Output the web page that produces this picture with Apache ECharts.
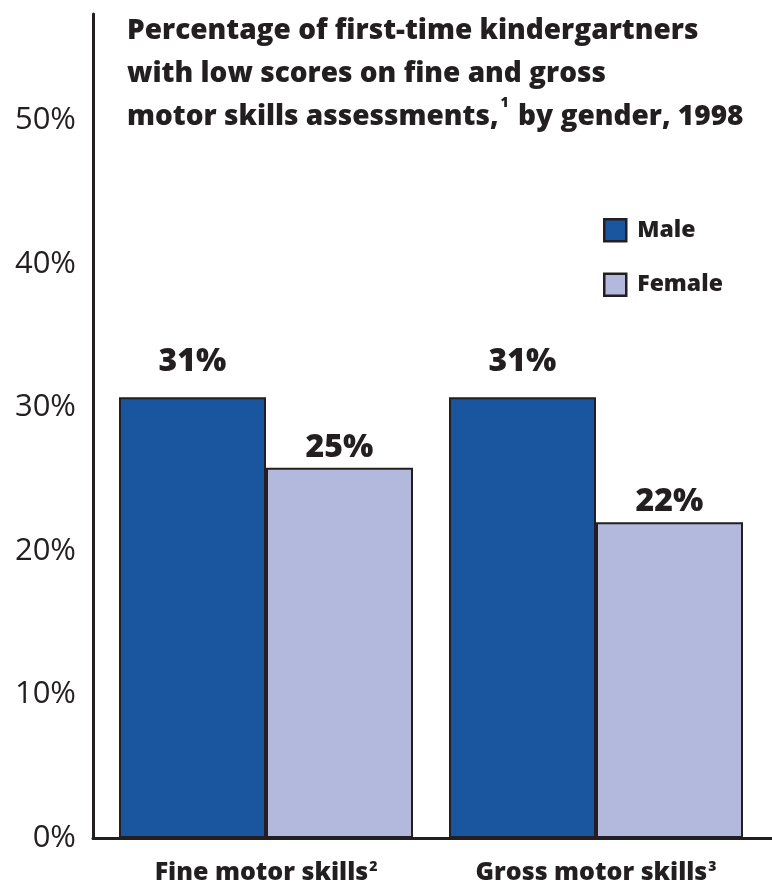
<!DOCTYPE html>
<html><head><meta charset="utf-8">
<script src="https://cdn.jsdelivr.net/npm/echarts@6/dist/echarts.min.js"></script>
<style>html,body{margin:0;padding:0;background:#fff}#c{width:772px;height:888px}</style>
</head><body><div id="c"></div>
<script>
const categories = ['Fine motor skills', 'Gross motor skills'];
const categorySup = ['2', '3'];
const maleValues = [30.7, 30.7];
const femaleValues = [25.8, 22.0];
const maleLabels = ['31%', '31%'];
const femaleLabels = ['25%', '22%'];
const yTicks = [0, 10, 20, 30, 40, 50];
const seriesNames = ['Male', 'Female'];

const ink = '#231f20';
const font = 'Open Sans';
const bw = 800;
const chart = echarts.init(document.getElementById('c'));
const yMax = 57.4;
chart.setOption({
  animation: false,
  title: {
    left: 122, top: 5,
    text: '{b|Percentage of first-time kindergartners}\n{b|with low scores on fine and gross}\n{b|motor skills assessments,}{s|1}{b| by gender, 1998}',
    textStyle: {
      rich: {
        b: {fontFamily: font, fontWeight: bw, fontSize: 28, color: ink, lineHeight: 43},
        s: {fontFamily: font, fontWeight: bw, fontSize: 14, color: ink, lineHeight: 43, verticalAlign: 'top', padding: [0, 2, 6, 2]}
      }
    }
  },
  legend: {
    orient: 'vertical', left: 598, top: 213, icon: 'rect',
    itemWidth: 22, itemHeight: 22, itemGap: 30,
    data: seriesNames,
    itemStyle: {borderColor: ink, borderWidth: 2.5},
    textStyle: {fontFamily: font, fontWeight: bw, fontSize: 23, color: ink, lineHeight: 22, padding: [0, 0, 0, 6]}
  },
  grid: [
    {left: 93, right: 0, top: 14, bottom: 50},
    {left: 101, right: 11, top: 14, bottom: 50}
  ],
  xAxis: [
    {gridIndex: 0, type: 'value', min: 0, max: 1, axisLine: {show: true, lineStyle: {color: ink, width: 3}},
     axisTick: {show: false}, axisLabel: {show: false}, splitLine: {show: false}},
    {gridIndex: 1, type: 'category', data: categories, axisLine: {show: false}, axisTick: {show: false},
     axisLabel: {margin: 22, formatter: (v, i) => '{b|' + v + '}{s|' + categorySup[i] + '}',
       rich: {
         b: {fontFamily: font, fontWeight: bw, fontSize: 25, color: ink},
         s: {fontFamily: font, fontWeight: bw, fontSize: 14, color: ink, verticalAlign: 'top', padding: [0, 0, 8, 1]}
       }}}
  ],
  yAxis: [
    {gridIndex: 0, type: 'value', min: 0, max: yMax, interval: 10,
     axisLine: {show: true, lineStyle: {color: ink, width: 3}}, axisTick: {show: false}, splitLine: {show: false},
     axisLabel: {margin: 17, fontFamily: font, fontSize: 31, color: ink,
       formatter: v => yTicks.indexOf(Math.round(v * 10) / 10) >= 0 ? v + '%' : ''}},
    {gridIndex: 1, type: 'value', min: 0, max: yMax, show: false}
  ],
  series: [
    {name: seriesNames[0], type: 'bar', xAxisIndex: 1, yAxisIndex: 1, data: maleValues,
     barWidth: 147, barGap: '0%',
     itemStyle: {color: '#1a56a0', borderColor: ink, borderWidth: 2},
     label: {show: true, position: 'top', distance: 19, formatter: p => maleLabels[p.dataIndex],
       fontFamily: font, fontWeight: bw, fontSize: 32, color: ink}},
    {name: seriesNames[1], type: 'bar', xAxisIndex: 1, yAxisIndex: 1, data: femaleValues,
     barWidth: 147, barGap: '0%',
     itemStyle: {color: '#b3b9dc', borderColor: ink, borderWidth: 2},
     label: {show: true, position: 'top', distance: 4, formatter: p => femaleLabels[p.dataIndex],
       fontFamily: font, fontWeight: bw, fontSize: 32, color: ink}}
  ]
});
</script></body></html>
